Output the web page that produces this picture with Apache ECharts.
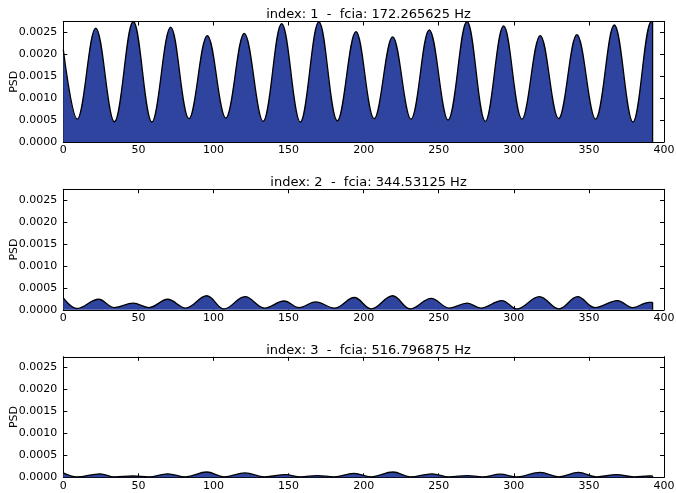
<!DOCTYPE html>
<html><head><meta charset="utf-8">
<script src="https://cdn.jsdelivr.net/npm/echarts@6/dist/echarts.min.js"></script>
<style>html,body{margin:0;padding:0;background:#fff}#c{width:676px;height:493px}</style>
</head><body><div id="c"></div>
<script>
const titles = ['index: 1  -  fcia: 172.265625 Hz', 'index: 2  -  fcia: 344.53125 Hz', 'index: 3  -  fcia: 516.796875 Hz'];
const yLabelName = 'PSD';
const xTicks = [0, 50, 100, 150, 200, 250, 300, 350, 400];
const yTicks = [0, 0.0005, 0.0010, 0.0015, 0.0020, 0.0025];
const yMax = 0.00274;

const x1 = [0, 9.3, 21.6, 34.0, 46.6, 59.0, 71.5, 83.7, 95.9, 108.2, 120.5, 133.0, 145.4, 157.8, 170.2, 182.5, 194.9, 207.0, 219.3, 231.5, 243.7, 256.2, 268.8, 281.0, 293.2, 305.4, 317.6, 329.8, 342.0, 354.4, 366.9, 379.3, 391.7, 392.4];
const y1 = [0.00210, 0.00052, 0.00259, 0.00046, 0.00274, 0.000455, 0.00261, 0.00053, 0.00242, 0.000545, 0.00247, 0.00047, 0.00269, 0.000455, 0.00273, 0.00048, 0.00251, 0.00053, 0.00239, 0.00052, 0.00255, 0.00050, 0.00274, 0.00047, 0.00264, 0.00052, 0.00242, 0.00053, 0.00244, 0.00052, 0.00266, 0.000455, 0.00274, 0.00274];

const x2 = [0, 9, 23.5, 34, 46.5, 57, 69.5, 81.5, 95.5, 107, 121, 134, 147, 157, 168, 180.5, 193.8, 205, 219.3, 231, 245, 257, 269, 278, 292, 302, 317, 330, 342.5, 354, 369, 379, 390, 392.4];
const y2 = [0.00027, 0.00003, 0.00024, 0.00005, 0.00015, 0.00005, 0.00024, 0.00004, 0.00032, 0.00002, 0.00030, 0.00004, 0.00020, 0.00005, 0.00018, 0.00004, 0.00028, 0.00002, 0.00032, 0.00002, 0.00026, 0.00004, 0.00015, 0.00004, 0.00021, 0.00002, 0.00030, 0.00002, 0.00030, 0.00005, 0.00021, 0.00005, 0.00017, 0.00017];

const x3 = [0, 9, 24.5, 34, 46.5, 57, 69.5, 81.5, 95.5, 107, 121, 134, 148, 158, 169, 180.5, 193.5, 205, 219.5, 231, 245.5, 257, 269, 279, 291, 302, 317.5, 330, 343, 355, 368.5, 380, 390, 392.4];
const y3 = [0.00010, 0.00001, 0.00008, 0.00001, 0.00003, 0.00001, 0.00008, 0.00001, 0.00012, 0.00001, 0.00010, 0.00001, 0.00006, 0.00001, 0.00004, 0.00001, 0.00009, 0.00001, 0.00012, 0.00001, 0.00008, 0.00001, 0.00004, 0.00001, 0.00007, 0.00001, 0.00011, 0.00001, 0.00011, 0.00001, 0.00006, 0.00001, 0.00003, 0.00003];

const xs = [x1, x2, x3];
const ys = [y1, y2, y3];

const FONT = 'DejaVu Sans';
const FILL = '#2E449F';
const tops = [21.5, 189.3, 356.8];
const H = 120.5;

const grid = [], xAxis = [], yAxis = [], series = [], title = [];
for (let i = 0; i < 3; i++) {
  grid.push({left: 63.3, right: 12, top: tops[i], height: H, outerBoundsMode: 'none'});
  title.push({text: titles[i], left: 363.5, top: tops[i] - 18, textAlign: 'center',
    textStyle: {fontFamily: FONT, fontSize: 13, fontWeight: 'normal', color: '#000'}});
  const baseX = {type: 'value', gridIndex: i, min: xTicks[0], max: xTicks[xTicks.length - 1], interval: xTicks[1] - xTicks[0],
    axisLine: {show: true, onZero: false, lineStyle: {color: '#000', width: 1}},
    axisTick: {show: true, inside: true, length: 4, lineStyle: {color: '#000', width: 1}},
    splitLine: {show: false}};
  xAxis.push(Object.assign({}, baseX, {position: 'bottom',
    axisLabel: {show: true, color: '#000', fontFamily: FONT, fontSize: 11, margin: 3}}));
  xAxis.push(Object.assign({}, baseX, {position: 'top', axisLabel: {show: false}}));
  const baseY = {type: 'value', gridIndex: i, min: yTicks[0], max: yMax, interval: yTicks[1] - yTicks[0],
    axisLine: {show: true, onZero: false, lineStyle: {color: '#000', width: 1}},
    axisTick: {show: true, inside: true, length: 4, lineStyle: {color: '#000', width: 1}},
    splitLine: {show: false}};
  yAxis.push(Object.assign({}, baseY, {position: 'left',
    name: yLabelName, nameLocation: 'middle', nameGap: 44, nameRotate: 90, nameMoveOverlap: false,
    nameTextStyle: {fontFamily: FONT, fontSize: 11, color: '#000'},
    axisLabel: {show: true, color: '#000', fontFamily: FONT, fontSize: 11, margin: 6, showMaxLabel: false,
      formatter: v => v.toFixed(4)}}));
  yAxis.push(Object.assign({}, baseY, {position: 'right', axisLabel: {show: false}}));
  const data = xs[i].map((x, j) => [x, ys[i][j]]);
  series.push({type: 'line', xAxisIndex: 2 * i, yAxisIndex: 2 * i, data: data, smooth: 0.38,
    symbol: 'none', lineStyle: {color: '#000', width: 1.3},
    areaStyle: {color: FILL, opacity: 1, origin: 'start'}, z: 2});
  const lastX = xs[i][xs[i].length - 1], lastY = ys[i][ys[i].length - 1];
  series.push({type: 'line', xAxisIndex: 2 * i, yAxisIndex: 2 * i, data: [[lastX, 0], [lastX, lastY]],
    symbol: 'none', lineStyle: {color: '#000', width: 1.3}, z: 3});
}

const chart = echarts.init(document.getElementById('c'), null, {renderer: 'canvas'});
chart.setOption({animation: false, backgroundColor: '#fff', title, grid, xAxis, yAxis, series});
</script>
</body></html>
